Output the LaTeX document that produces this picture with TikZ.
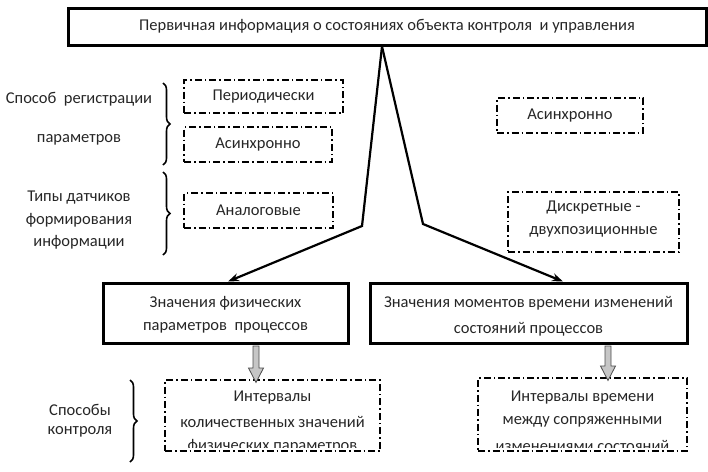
\documentclass[tikz,border=0pt]{standalone}
\usepackage{fontspec}
\setmainfont{Carlito}
\usetikzlibrary{arrows.meta,decorations.pathreplacing}
\begin{document}
\begin{tikzpicture}[x=1pt,y=-1pt,
  every node/.style={font=\fontsize{16.5}{24}\selectfont, text=black!85, align=center, inner sep=0pt},
  thickbox/.style={draw, line width=3pt},
  dashbox/.style={draw, line width=1.3pt, dash pattern=on 7pt off 3pt on 1.5pt off 3pt},
  link/.style={line width=2.2pt, -{Stealth[length=11pt,width=8pt]}},
  bracestyle/.style={decorate, decoration={brace, amplitude=7pt}, line width=1.6pt},
  garrow/.style={draw=black!70, fill=gray!45, line width=0.8pt}]
\useasboundingbox (0,0) rectangle (708,471);
% main boxes
\node[thickbox, minimum width=638pt, minimum height=37pt] (top) at (387,26.5)
  {Первичная информация о состояниях объекта контроля\ \ и управления};
\node[thickbox, minimum width=245pt, minimum height=60pt] (lm) at (225.5,313) {};
\node at (225.5,303) {Значения физических};
\node at (225.5,328) {параметров\ \ процессов};
\node[thickbox, minimum width=317pt, minimum height=60pt] (rm) at (528.5,313) {};
\node at (528.5,303) {Значения моментов времени изменений};
\node at (528.5,329) {состояний процессов};
% dash-dot boxes
\node[dashbox, minimum width=159pt, minimum height=33pt] (per) at (263.5,96.5) {Периодически};
\node[dashbox, minimum width=148pt, minimum height=35pt] (asl) at (258,144.5) {Асинхронно};
\node[dashbox, minimum width=149pt, minimum height=35pt] (ana) at (258.5,210.5) {Аналоговые};
\node[dashbox, minimum width=146pt, minimum height=35pt] (asr) at (570,115.5) {Асинхронно};
\node[dashbox, minimum width=171pt, minimum height=60pt] (dis) at (593.5,222) {};
\node at (593.5,208) {Дискретные -};
\node at (593.5,232) {двухпозиционные};
\node[dashbox, minimum width=215pt, minimum height=71pt] (bl) at (272.5,415.5) {};
\node[dashbox, minimum width=209pt, minimum height=73pt] (br) at (582.5,414.5) {};
\begin{scope}
  \clip ([xshift=1pt,yshift=-1pt]bl.north west) rectangle ([xshift=-1pt,yshift=4pt]bl.south east);
  \node at (272.5,398) {Интервалы};
  \node at (272.5,422) {количественных значений};
  \node at (272.5,446) {физических параметров};
\end{scope}
\begin{scope}
  \clip ([xshift=1pt,yshift=-1pt]br.north west) rectangle ([xshift=-1pt,yshift=4pt]br.south east);
  \node at (582.5,398) {Интервалы времени};
  \node at (582.5,422) {между сопряженными};
  \node at (582.5,446) {изменениями состояний};
\end{scope}
% left labels
\node (l1) at (79,99) {Способ\ \ регистрации};
\node (l2) at (79,140) {параметров};
\node (l3) at (79,198) {Типы датчиков};
\node (l4) at (79,220) {формирования};
\node (l5) at (79,242) {информации};
\node (l6) at (80,410) {Способы};
\node (l7) at (80,432) {контроля};
\draw[bracestyle] (163,83) -- (163,165);
\draw[bracestyle] (163,172) -- (163,255);
\draw[bracestyle] (130,380) -- (130,462);
% connectors
\draw[link] ([xshift=-5pt]top.south) -- (362,226) -- ([xshift=2.5pt]lm.north);
\draw[link] ([xshift=-5pt]top.south) -- (423,224) -- ([xshift=34.5pt]rm.north);
% gray block arrows
\draw[garrow] ([xshift=27.5pt,yshift=-1.5pt]lm.south) -- ++(0,22) -- ++(-4.5,0) -- ++(7.5,14.5) -- ++(7.5,-14.5) -- ++(-4.5,0) -- ++(0,-22) -- cycle;
\draw[garrow] ([xshift=76.5pt,yshift=-1.5pt]rm.south) -- ++(0,20) -- ++(-4.5,0) -- ++(7.5,14.5) -- ++(7.5,-14.5) -- ++(-4.5,0) -- ++(0,-20) -- cycle;
\end{tikzpicture}
\end{document}
